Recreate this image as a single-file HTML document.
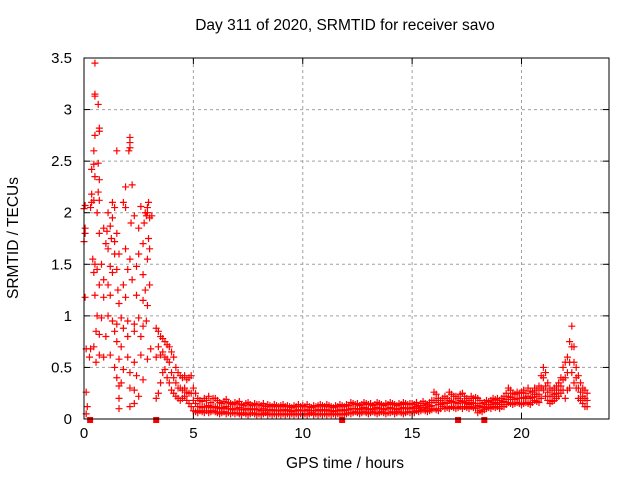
<!DOCTYPE html>
<html><head><meta charset="utf-8"><style>
body{margin:0;background:#fff}
svg{display:block;font-family:"Liberation Sans",Arial,sans-serif}
</style></head><body>
<svg id="c" width="640" height="480"></svg>
<script>
const xTicks=[0,5,10,15,20];
const yTicks=[0,0.5,1,1.5,2,2.5,3,3.5];
const yTickLabels=["0","0.5","1","1.5","2","2.5","3","3.5"];
const scatterT=[0.5,0.5,0.5,0.65,0.7,0.7,0.5,0.45,1.5,2.1,2.1,2.1,2.05,1.9,2.2,0.45,0.65,0.35,0.5,0.7,0.65,0.7,0.35,0.35,0.6,0.3,0.05,0.0,0.45,1.3,1.4,1.1,1.3,1.8,1.9,2.3,2.95,2.9,2.9,3.0,2.8,2.85,3.1,2.6,2.75,2.5,2.15,0.05,0.05,0.0,0.7,0.9,1.05,1.2,1.25,1.4,1.5,1.0,1.1,1.4,1.6,1.9,2.1,2.5,2.7,2.95,3.0,2.9,0.4,0.5,0.6,0.45,0.8,1.2,1.3,1.5,2.0,2.4,2.7,2.2,1.8,1.55,1.1,0.9,0.7,0.5,0.9,1.2,1.6,1.9,2.4,2.7,2.8,3.0,2.9,0.05,0.6,0.8,1.1,1.3,1.5,1.7,2.0,2.3,2.5,2.7,2.85,0.55,0.7,1.0,1.4,1.8,2.0,2.3,2.6,1.5,1.7,0.3,0.1,0.45,0.7,0.9,1.2,1.6,2.0,2.3,2.6,2.9,3.05,1.4,1.8,2.1,2.4,2.7,1.5,1.6,1.7,2.1,2.3,2.5,1.6,1.6,2.1,2.3,0.1,0.15,0.1,0.25,0.55];
const scatterV=[3.45,3.15,3.13,3.05,2.82,2.79,2.75,2.6,2.6,2.73,2.68,2.63,2.6,2.25,2.27,2.47,2.48,2.42,2.35,2.32,2.2,2.12,2.18,2.1,2.0,2.05,2.07,2.04,2.12,2.1,2.05,2.0,1.95,2.1,2.05,1.97,2.1,2.05,2.0,1.95,2.0,1.97,1.97,2.06,1.9,1.85,1.9,1.85,1.8,1.72,1.8,1.85,1.82,1.87,1.75,1.72,1.8,1.7,1.65,1.6,1.6,1.65,1.55,1.6,1.7,1.75,1.65,1.55,1.55,1.5,1.45,1.42,1.5,1.48,1.42,1.45,1.45,1.48,1.4,1.35,1.3,1.25,1.3,1.35,1.3,1.2,1.18,1.2,1.12,1.18,1.2,1.15,1.25,1.3,1.1,1.18,1.0,0.98,1.0,0.95,0.92,0.98,0.95,0.92,0.98,0.9,0.95,0.85,0.82,0.8,0.85,0.88,0.8,0.85,0.8,0.75,0.7,0.68,0.68,0.7,0.62,0.6,0.62,0.58,0.6,0.55,0.62,0.58,0.68,0.5,0.48,0.45,0.42,0.38,0.4,0.32,0.35,0.3,0.28,0.22,0.2,0.1,0.12,0.15,0.26,0.12,0.05,0.6,0.55];
const bandStart=3.3, bandStep=0.1;
const bandHi=[.88,.85,.8,.78,.75,.72,.7,
.65,.6,.5,.45,.42,.4,.42,.38,.4,.42,
.3,.25,.2,.18,.17,.2,.18,.22,.16,.2,
.2,.18,.16,.15,.17,.19,.16,.15,.14,.16,
.15,.17,.14,.13,.15,.16,.14,.13,.15,.14,
.14,.13,.15,.12,.14,.13,.12,.14,.13,.12,
.13,.14,.12,.13,.12,.11,.13,.12,.14,.12,
.13,.12,.14,.12,.11,.13,.12,.13,.14,.13,
.12,.14,.13,.12,.11,.13,.12,.14,.13,.12,
.14,.13,.16,.15,.14,.15,.13,.14,.16,.15,
.14,.15,.13,.14,.16,.15,.14,.13,.15,.14,
.16,.15,.14,.13,.15,.14,.16,.15,.14,.15,
.15,.14,.16,.13,.15,.17,.15,.14,.16,.18,
.26,.24,.2,.18,.2,.22,.2,.26,.24,.22,
.22,.2,.24,.25,.22,.2,.18,.22,.2,.21,
.2,.18,.15,.16,.18,.17,.18,.2,.19,.2,
.18,.2,.22,.25,.3,.28,.25,.24,.26,.25,
.26,.28,.25,.3,.27,.26,.3,.28,.32,.42,
.5,.45,.35,.3,.28,.3,.32,.35,.4,.5,
.55,.6,.75,.9,.7,.5,.42,.35,.3,.28,.25];
const bandMid=[.6,.7,.62,.65,.6,.58,.55,
.45,.4,.35,.3,.3,.28,.3,.26,.25,.25,
.18,.15,.12,.12,.11,.12,.12,.13,.11,.12,
.12,.11,.1,.1,.11,.12,.1,.1,.09,.1,
.1,.11,.09,.09,.1,.1,.09,.09,.1,.09,
.09,.08,.1,.08,.09,.09,.08,.09,.08,.08,
.08,.09,.08,.09,.08,.07,.08,.08,.09,.08,
.08,.08,.09,.08,.08,.08,.08,.09,.09,.08,
.08,.09,.08,.08,.07,.08,.08,.09,.08,.08,
.09,.09,.1,.1,.1,.1,.09,.1,.11,.1,
.09,.1,.09,.1,.11,.1,.1,.09,.1,.1,
.11,.1,.1,.09,.1,.1,.11,.1,.1,.1,
.11,.1,.12,.1,.11,.13,.11,.1,.12,.13,
.18,.16,.14,.14,.15,.16,.15,.18,.17,.16,
.16,.15,.18,.17,.16,.15,.14,.16,.15,.15,
.13,.12,.11,.12,.14,.14,.14,.16,.15,.16,
.14,.16,.17,.19,.22,.21,.19,.19,.2,.2,
.2,.21,.2,.22,.2,.21,.24,.22,.24,.3,
.4,.32,.26,.22,.22,.24,.25,.28,.32,.38,
.4,.45,.55,.7,.55,.4,.3,.26,.22,.2,.18];
const bandLo=[.2,.25,.35,.45,.48,.4,.35,
.28,.25,.22,.2,.18,.2,.22,.18,.15,.12,
.08,.07,.06,.08,.07,.06,.08,.06,.07,.08,
.07,.06,.05,.06,.07,.05,.06,.05,.06,.05,
.06,.05,.04,.06,.05,.04,.05,.06,.05,.04,
.05,.04,.05,.06,.04,.05,.04,.05,.04,.05,
.04,.05,.04,.05,.04,.05,.04,.05,.04,.05,
.04,.05,.04,.05,.06,.04,.05,.04,.05,.04,
.05,.04,.05,.04,.05,.04,.05,.04,.05,.04,
.05,.06,.05,.06,.07,.06,.05,.06,.07,.06,
.05,.06,.07,.06,.05,.06,.07,.06,.05,.06,
.06,.07,.05,.06,.07,.06,.05,.06,.07,.06,
.07,.06,.08,.07,.08,.09,.08,.07,.08,.09,
.1,.09,.08,.1,.12,.1,.11,.1,.12,.11,
.1,.11,.12,.1,.12,.11,.1,.12,.11,.1,
.06,.08,.07,.09,.1,.11,.1,.12,.11,.12,
.1,.12,.12,.14,.16,.15,.14,.15,.16,.15,
.14,.15,.16,.15,.14,.16,.18,.17,.16,.2,
.28,.22,.18,.15,.17,.18,.2,.22,.25,.28,
.2,.28,.3,.45,.35,.3,.2,.18,.15,.12,.12];
const gapT=[0.28,3.3,11.8,17.1,18.3];

const NS="http://www.w3.org/2000/svg";
const svg=document.getElementById('c');
const L=84,R=609,T=58,B=419;
const xs=t=>L+(R-L)*t/24;
const ys=v=>B-(B-T)*v/3.5;
function mk(tag,at,parent){const e=document.createElementNS(NS,tag);for(const k in at)e.setAttribute(k,at[k]);(parent||svg).appendChild(e);return e;}

const grid=mk('g',{});


xTicks.forEach(t=>{if(t>0)mk('line',{x1:xs(t),x2:xs(t),y1:T,y2:B,stroke:'#a0a0a0','stroke-dasharray':'3,3'},grid);});
yTicks.forEach(v=>{if(v>0&&v<3.5)mk('line',{x1:L,x2:R,y1:ys(v),y2:ys(v),stroke:'#a0a0a0','stroke-dasharray':'3,3'},grid);});

const pts=mk('g',{stroke:'#ff0000','stroke-width':1.2});


function plus(x,y){mk('path',{d:`M${x-3.5} ${y}h7M${x} ${y-3.5}v7`},pts);}
scatterT.forEach((t,i)=>plus(xs(t),ys(scatterV[i])));
bandHi.forEach((v,i)=>{const t=bandStart+i*bandStep;plus(xs(t),ys(v));plus(xs(t),ys(bandMid[i]));plus(xs(t),ys(bandLo[i]));});
const gaps=mk('g',{fill:'#ff0000'});


gapT.forEach(t=>mk('rect',{x:xs(t)-3,y:B-2,width:6,height:6},gaps));

const ax=mk('g',{stroke:'#000'});


mk('rect',{x:L,y:T,width:R-L,height:B-T,fill:'none'},ax);
const tl=mk('g',{'font-size':15,fill:'#000'});


xTicks.forEach(t=>{mk('line',{x1:xs(t),x2:xs(t),y1:B,y2:B-6},ax);mk('line',{x1:xs(t),x2:xs(t),y1:T,y2:T+6},ax);
 const e=mk('text',{x:xs(t),y:B+19,'text-anchor':'middle'},tl);e.textContent=t;});
yTicks.forEach((v,i)=>{mk('line',{x1:L,x2:L+6,y1:ys(v),y2:ys(v)},ax);mk('line',{x1:R,x2:R-6,y1:ys(v),y2:ys(v)},ax);
 const e=mk('text',{x:L-12,y:ys(v)+5,'text-anchor':'end'},tl);e.textContent=yTickLabels[i];});
</script>
<div style="position:absolute;left:0;top:0;width:640px;height:480px;pointer-events:none;font-family:'Liberation Sans',Arial,sans-serif;font-size:15.5px;color:#000">
<div style="position:absolute;left:0;width:690px;top:17px;text-align:center">Day 311 of 2020, SRMTID for receiver savo</div>
<div style="position:absolute;left:0;width:690px;top:455px;text-align:center">GPS time / hours</div>
<div style="position:absolute;left:14px;top:238px;transform:translate(-50%,-50%) rotate(-90deg);white-space:nowrap">SRMTID / TECUs</div>
</div>
</body></html>
